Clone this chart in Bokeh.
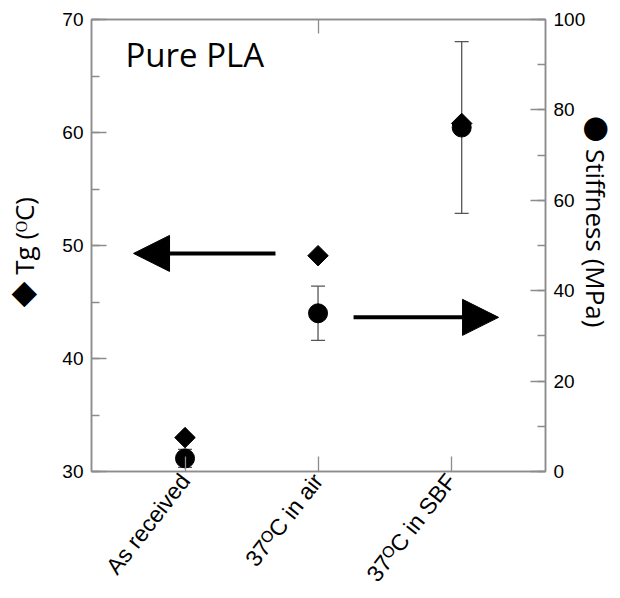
import math
from bokeh.plotting import figure
from bokeh.models import (Range1d, LinearAxis, FixedTicker, SingleIntervalTicker,
                          Whisker, TeeHead, ColumnDataSource, Label, Arrow, NormalHead)
from bokeh.embed import file_html
from bokeh.resources import INLINE

# ---------------- data ----------------
categories = ["As received", "37\u1d3cC in air", "37\u1d3cC in SBF"]
cat_ticks = [1, 2, 3]
point_x = [1.0, 2.0, 3.08]
tg_values = [33.0, 49.1, 60.8]          # Tg (°C), left axis
stiffness_values = [2.9, 35.0, 76.1]    # Stiffness (MPa), right axis
stiffness_err = [2.0, 6.0, 19.0]
tg_range = [30, 70]
stiff_range = [0, 100]
x_range = [0.297, 3.71]
arrow_tg = [1.68, 0.613, 49.3]          # x start, x end, y (Tg units)
arrow_stiff = [2.267, 3.357, 34.1]      # x start, x end, y (MPa units)
left_title = "\u25c6 Tg (\u1d3cC)"
right_title = "\u25cf Stiffness (MPa)"
panel_title = "Pure PLA"

GRAY = "#8c8c8c"
ERR = "#555555"
NB = "\u00a0"
TITLE_FONT = "Open Sans, Noto Sans CJK JP"

BL, BR, BT, BB = 91, 75, 19, 127
FW, FH = 454, 452
W, H = BL + FW + BR, BT + FH + BB

p = figure(width=W, height=H, output_backend="svg", toolbar_location=None,
           x_range=Range1d(*x_range), y_range=Range1d(*tg_range),
           min_border_left=BL, min_border_right=BR, min_border_top=BT,
           min_border_bottom=BB)
p.extra_y_ranges = {"stiff": Range1d(*stiff_range)}
p.xgrid.visible = False
p.ygrid.visible = False
p.outline_line_color = GRAY
p.outline_line_width = 1.5
p.background_fill_color = "white"
p.border_fill_color = "white"

def style_axis(ax):
    ax.axis_line_color = GRAY
    ax.axis_line_width = 1.5
    ax.major_tick_line_color = GRAY
    ax.minor_tick_line_color = GRAY
    ax.major_tick_line_width = 1.3
    ax.minor_tick_line_width = 1.3
    ax.major_tick_in = 15
    ax.major_tick_out = 0
    ax.minor_tick_in = 8
    ax.minor_tick_out = 0
    ax.major_label_text_font = "Liberation Sans"
    ax.major_label_text_font_size = "19px"
    ax.major_label_text_color = "black"
    ax.major_label_standoff = 8
    ax.axis_label_text_font = TITLE_FONT
    ax.axis_label_text_font_style = "normal"
    ax.axis_label_text_font_size = "26px"
    ax.axis_label_text_color = "black"

# left axis (Tg)
yax = p.yaxis[0]
yax.ticker = SingleIntervalTicker(interval=10, num_minor_ticks=2)
style_axis(yax)
yax.axis_label = left_title + NB * 2
yax.axis_label_standoff = 17

# right axis (stiffness)
rax = LinearAxis(y_range_name="stiff",
                 ticker=SingleIntervalTicker(interval=20, num_minor_ticks=2))
style_axis(rax)
rax.axis_label = right_title + NB * 7
rax.axis_label_standoff = -10
p.add_layout(rax, "right")

# bottom axis: categories
xax = p.xaxis[0]
xax.ticker = FixedTicker(ticks=cat_ticks, minor_ticks=[])
style_axis(xax)
xax.major_label_overrides = {t: c for t, c in zip(cat_ticks, categories)}
xax.major_label_orientation = math.radians(52)
xax.major_label_text_font_size = "23px"
xax.major_label_standoff = 5

# top axis: single tick
tax = LinearAxis(ticker=FixedTicker(ticks=[cat_ticks[1]], minor_ticks=[]))
style_axis(tax)
tax.major_tick_in = 14
tax.major_label_overrides = {cat_ticks[1]: " "}
tax.major_label_text_font_size = "1px"
tax.major_label_standoff = 0
p.add_layout(tax, "above")

# error bars
src = ColumnDataSource(dict(
    x=point_x,
    upper=[v + e for v, e in zip(stiffness_values, stiffness_err)],
    lower=[v - e for v, e in zip(stiffness_values, stiffness_err)],
))
wh = Whisker(base="x", upper="upper", lower="lower", source=src,
             y_range_name="stiff", dimension="height",
             line_color=ERR, line_width=1.3,
             upper_head=TeeHead(size=14, line_color=ERR, line_width=1.3),
             lower_head=TeeHead(size=14, line_color=ERR, line_width=1.3))
p.add_layout(wh)

# markers
p.scatter(point_x, tg_values, marker="square", angle=math.pi / 4, size=14.5,
          fill_color="black", line_color="black")
p.scatter(point_x, stiffness_values, y_range_name="stiff", marker="circle",
          size=19, fill_color="black", line_color="black")

# arrows
p.add_layout(Arrow(x_start=arrow_tg[0], y_start=arrow_tg[2], x_end=arrow_tg[1],
                   y_end=arrow_tg[2], line_width=4, line_color="black",
                   end=NormalHead(size=36, fill_color="black", line_color="black",
                                  line_width=1)))
p.add_layout(Arrow(x_start=arrow_stiff[0], y_start=arrow_stiff[2],
                   x_end=arrow_stiff[1], y_end=arrow_stiff[2],
                   y_range_name="stiff", line_width=4, line_color="black",
                   end=NormalHead(size=36, fill_color="black", line_color="black",
                                  line_width=1)))

# panel title
p.add_layout(Label(x=x_range[0], y=tg_range[1], x_offset=34, y_offset=-35,
                   text=panel_title, text_align="left", text_baseline="alphabetic",
                   text_font="Open Sans", text_font_size="33px",
                   text_color="black"))

open("out.html", "w").write(file_html(p, INLINE))
